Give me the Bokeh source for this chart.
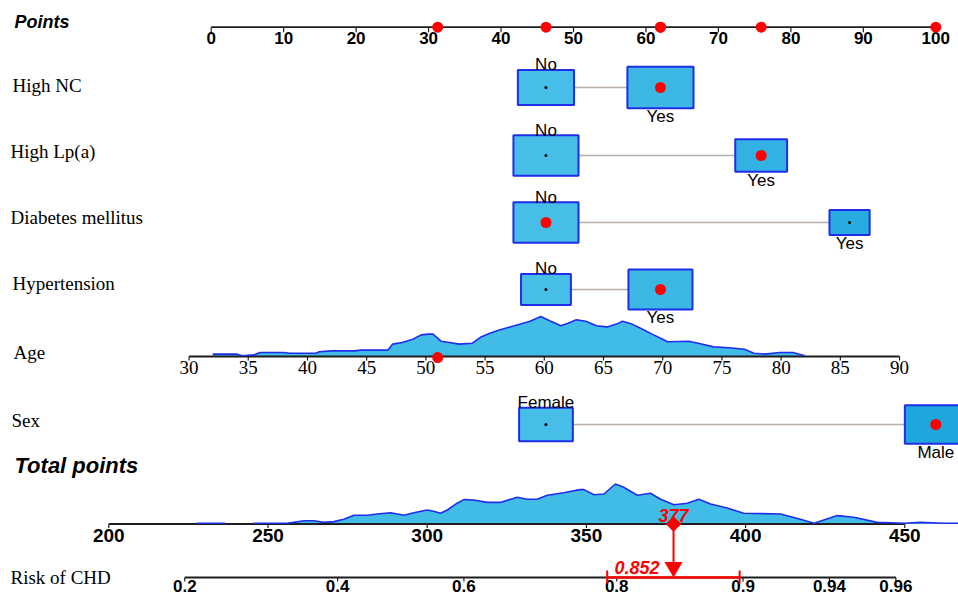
import numpy as np
from bokeh.plotting import figure
from bokeh.models import Range1d
from bokeh.core.properties import value
from bokeh.embed import file_html
from bokeh.resources import INLINE

# ---------------- data ----------------
variables = ["High NC", "High Lp(a)", "Diabetes mellitus", "Hypertension", "Sex"]
levels = [["No", "Yes"], ["No", "Yes"], ["No", "Yes"], ["No", "Yes"], ["Female", "Male"]]
level_points = [[46.2, 62.0], [46.2, 75.9], [46.2, 88.1], [46.2, 62.0], [46.2, 100.0]]
level_weight = [[0.47, 0.65], [0.63, 0.40], [0.63, 0.24], [0.37, 0.61], [0.43, 0.57]]

# example patient
patient_level = [1, 1, 0, 1, 1]
patient_age = 51

points_ticks = list(range(0, 101, 10))

age_ticks = list(range(30, 91, 5))
age_points_range = (-3.06, 95.0)          # points for age 30 and age 90
age_grid = [32.0, 34.0, 34.5, 35.5, 36.0, 38.0, 38.5, 40.7, 41.0, 42.0, 44.0, 44.5,
            46.8, 47.2, 48.0, 48.9, 49.6, 50.2, 50.6, 51.3, 52.0, 52.8, 53.9, 54.6,
            55.4, 56.2, 57.1, 58.0, 58.8, 59.7, 60.5, 61.4, 62.0, 62.7, 63.5, 64.4,
            65.3, 66.1, 66.6, 67.4, 68.3, 69.1, 70.0, 70.4, 72.2, 73.0, 74.3, 75.6,
            76.9, 77.7, 78.6, 79.9, 81.0, 82.0]
age_density = [6, 6, 2, 4, 10, 10, 8, 8, 12, 14, 14, 16,
               16, 31, 35, 43, 54, 56, 56, 38, 35, 31, 33, 48,
               58, 66, 74, 81, 88, 100, 89, 77, 83, 92, 88, 77,
               74, 81, 88, 81, 68, 56, 43, 37, 38, 33, 24, 22,
               18, 8, 6, 10, 10, 2]

total_ticks = list(range(200, 451, 50))
total_points_range = (-14.13, 95.72)      # points-scale position of total 200 and 450
total_grid = [227.5, 236.6, 237.0, 245.0, 245.4, 256.0, 258.0, 261.3, 264.4, 267.5,
              270.7, 273.8, 277.0, 281.2, 284.3, 288.5, 292.7, 295.8, 300.0, 302.0,
              304.2, 306.3, 309.4, 311.5, 314.6, 318.8, 323.0, 328.3, 331.4, 334.5,
              337.7, 342.9, 348.0, 349.2, 352.4, 355.5, 359.1, 361.7, 366.0, 370.1,
              373.3, 377.5, 381.7, 385.3, 389.0, 394.2, 399.4, 411.0, 417.2, 421.5,
              428.8, 434.0, 441.3, 449.7, 454.9, 462.2, 467.0]
total_density = [2, 2, 0, 0, 2, 2, 4, 8, 8, 4,
                 6, 12, 22, 22, 25, 28, 22, 28, 35, 32,
                 27, 35, 52, 61, 60, 54, 54, 67, 62, 62,
                 72, 78, 86, 86, 73, 75, 100, 92, 72, 77,
                 62, 48, 52, 62, 50, 40, 27, 25, 12, 2,
                 21, 17, 4, 2, 4, 2, 2]

risk_intercept = -5.961
risk_slope = 0.020436                      # logit change per total point
risk_ticks = [0.2, 0.4, 0.6, 0.8, 0.9, 0.94, 0.96]
risk_ci = (0.790, 0.898)

# ---------------- scales ----------------
W, H = 958, 597
PX0, PXS = 210.7, 7.246                    # pixel of 0 points, pixels per point
X_START, X_END = -PX0 / PXS, (W - PX0) / PXS


def px_x(px):
    return (px - PX0) / PXS


def lin(v, v0, v1, p0, p1):
    return p0 + (np.asarray(v, dtype=float) - v0) * (p1 - p0) / (v1 - v0)


def age_to_pts(a):
    return lin(a, 30, 90, *age_points_range)


def total_to_pts(t):
    return lin(t, 200, 450, *total_points_range)


def logit(r):
    r = np.asarray(r, dtype=float)
    return np.log(r / (1 - r))


def risk_to_total(r):
    return (logit(r) - risk_intercept) / risk_slope


patient_pts = [level_points[i][patient_level[i]] for i in range(len(variables))]
age_pts = float(age_to_pts(patient_age))
total = sum(patient_pts) + age_pts
risk = 1.0 / (1.0 + np.exp(-(risk_intercept + risk_slope * total)))

# ---------------- styles ----------------
SANS = value("Liberation Sans")
NARROW = value("Liberation Sans Narrow")
SERIF = value("Liberation Serif")
AXIS_COLOR = "#1e1e1e"
FILL = "#40BCE7"
EDGE = "#1F2EEA"
RED = "#FF0000"
BOX_LIGHT = np.array([0x46, 0xBE, 0xE8])
BOX_DARK = np.array([0x1F, 0xA6, 0xDC])


def box_color(pts):
    # boxes shade slightly darker towards the right of the scale
    t = float(np.clip((pts - 50.0) / 50.0, 0, 1))
    r, g, b = (BOX_LIGHT + (BOX_DARK - BOX_LIGHT) * t).round().astype(int)
    return f"#{r:02X}{g:02X}{b:02X}"


def base(y, size):
    """y for an alphabetic baseline at pixel row y, for a font of `size` px."""
    return y - 0.39 * size


p = figure(width=W, height=H, x_range=Range1d(X_START, X_END), y_range=Range1d(H, 0),
           output_backend="svg", toolbar_location=None, min_border=0,
           x_axis_location=None, y_axis_location=None, outline_line_color=None)
p.grid.visible = False
p.background_fill_color = "white"
p.border_fill_color = "white"


def draw_axis(xs, labels, y, label_y, size, font, style, tick=5):
    xs = np.asarray(xs, dtype=float)
    p.segment(x0=[xs[0]], y0=[y], x1=[xs[-1]], y1=[y],
              line_color=AXIS_COLOR, line_width=1.8)
    p.segment(x0=xs, y0=[y] * len(xs), x1=xs, y1=[y + tick] * len(xs),
              line_color=AXIS_COLOR, line_width=1.2)
    p.text(x=xs, y=[base(label_y, size)] * len(xs), text=labels, text_align="center",
           text_baseline="alphabetic", text_font=font, text_font_size=f"{size}px",
           text_font_style=style, text_color="black")


def draw_density(xs, dens, y, height):
    xs = np.asarray(xs, dtype=float)
    d = np.asarray(dens, dtype=float)
    top = y - d / 100.0 * height
    p.patch(np.r_[xs[0], xs, xs[-1]], np.r_[y, top, y], fill_color=FILL,
            line_color=None, fill_alpha=1.0)
    return xs, top, d


def draw_density_edge(xs, top, d):
    ys = np.where(d > 0, top, np.nan)
    p.line(xs, ys, line_color=EDGE, line_width=1.6)


def left_label(txt, px, baseline, font=SERIF, size=19, style="normal"):
    p.text(x=[px_x(px)], y=[base(baseline, size)], text=[txt], text_font=font,
           text_font_size=f"{size}px", text_font_style=style,
           text_baseline="alphabetic", text_align="left", text_color="black")


# ---------------- Points scale ----------------
POINTS_Y = 26.7
left_label("Points", 14, 29, font=SANS, size=18, style="bold italic")
draw_axis(points_ticks, [str(t) for t in points_ticks], POINTS_Y, 44.5, 17, SANS, "bold")
p.scatter(x=patient_pts + [age_pts], y=[POINTS_Y] * (len(patient_pts) + 1),
          size=11, color=RED, line_color=None)

# ---------------- categorical rows ----------------
row_y = {"High NC": 87, "High Lp(a)": 155, "Diabetes mellitus": 222,
         "Hypertension": 289, "Sex": 424}
label_base = {"High NC": 92, "High Lp(a)": 158, "Diabetes mellitus": 224,
              "Hypertension": 290, "Sex": 427}
label_px = {"High NC": 12, "High Lp(a)": 10, "Diabetes mellitus": 10,
            "Hypertension": 12, "Sex": 11}
BOX_K, BOX_ASPECT = 82.0, 0.625
LEVEL_SIZE = 17

for i, var in enumerate(variables):
    y = row_y[var]
    left_label(var, label_px[var], label_base[var])
    xs = level_points[i]
    ws = [BOX_K * np.sqrt(wt) for wt in level_weight[i]]
    hs = [w * BOX_ASPECT for w in ws]
    p.segment(x0=[xs[0]], y0=[y], x1=[xs[1]], y1=[y], line_color="#B9AEA6", line_width=1.6)
    p.rect(x=xs, y=[y, y], width=ws, height=hs, width_units="screen",
           height_units="screen", fill_color=[box_color(v) for v in xs],
           line_color=EDGE, line_width=2)
    # level names: first above its box, second below
    p.text(x=[xs[0]], y=[base(y - hs[0] / 2 + 1.5, LEVEL_SIZE)], text=[levels[i][0]],
           text_align="center", text_baseline="alphabetic", text_font=SANS,
           text_font_size=f"{LEVEL_SIZE}px", text_color="black")
    p.text(x=[xs[1]], y=[base(y + hs[1] / 2 + 15, LEVEL_SIZE)], text=[levels[i][1]],
           text_align="center", text_baseline="alphabetic", text_font=SANS,
           text_font_size=f"{LEVEL_SIZE}px", text_color="black")
    sel = patient_level[i]
    other = 1 - sel
    p.scatter(x=[xs[other]], y=[y], size=3, color="black", line_color=None)
    p.scatter(x=[xs[sel]], y=[y], size=11, color=RED, line_color=None)

# ---------------- Age ----------------
AGE_Y = 356
left_label("Age", 13, 359)
ax, atop, ad = draw_density(age_to_pts(age_grid), age_density, AGE_Y, 40)
draw_axis(age_to_pts(age_ticks), [str(a) for a in age_ticks], AGE_Y, 374, 19, NARROW, "normal", tick=4)
draw_density_edge(ax, atop, ad)
p.scatter(x=[age_pts], y=[AGE_Y + 1], size=11, color=RED, line_color=None)

# ---------------- Total points ----------------
TOT_Y = 523.5
left_label("Total points", 14, 474, font=SANS, size=22, style="bold italic")
tx, ttop, td = draw_density(total_to_pts(total_grid), total_density, TOT_Y, 40)
draw_axis(total_to_pts(total_ticks), [str(t) for t in total_ticks], TOT_Y, 542, 19, SANS, "bold", tick=4)
draw_density_edge(tx, ttop, td)

# ---------------- Risk ----------------
RISK_Y = 577
left_label("Risk of CHD", 10, 584)
risk_x = total_to_pts(risk_to_total(risk_ticks))
draw_axis(risk_x, [str(r) for r in risk_ticks], RISK_Y, 592.5, 17, SANS, "bold", tick=4)

# patient marker: total points and predicted risk with its interval
xt = float(total_to_pts(total))
xr = float(total_to_pts(risk_to_total(risk)))
lo, hi = [float(v) for v in total_to_pts(risk_to_total(np.array(risk_ci)))]
p.segment(x0=[xt], y0=[TOT_Y], x1=[xr], y1=[RISK_Y - 10], line_color=RED, line_width=2)
p.segment(x0=[lo], y0=[RISK_Y], x1=[hi], y1=[RISK_Y], line_color=RED, line_width=2.5)
p.segment(x0=[lo, hi], y0=[RISK_Y - 7, RISK_Y - 7], x1=[lo, hi], y1=[RISK_Y + 6, RISK_Y + 6],
          line_color=RED, line_width=2)
p.text(x=[xt], y=[base(522, 18)], text=[f"{total:.0f}"], text_align="center",
       text_baseline="alphabetic", text_font=SANS, text_font_size="18px",
       text_font_style="bold italic", text_color=RED)
p.scatter(x=[xt], y=[TOT_Y], marker="square", angle=np.pi / 4, size=11, color=RED,
          line_color=None)
p.scatter(x=[xr], y=[RISK_Y - 10.4], marker="inverted_triangle", size=18, color=RED,
          line_color=None)
p.text(x=[xr], y=[base(574, 18)], x_offset=-14, text=[f"{risk:.3f}"], text_align="right",
       text_baseline="alphabetic", text_font=SANS, text_font_size="18px",
       text_font_style="bold italic", text_color=RED)

open("out.html", "w").write(file_html(p, INLINE))
